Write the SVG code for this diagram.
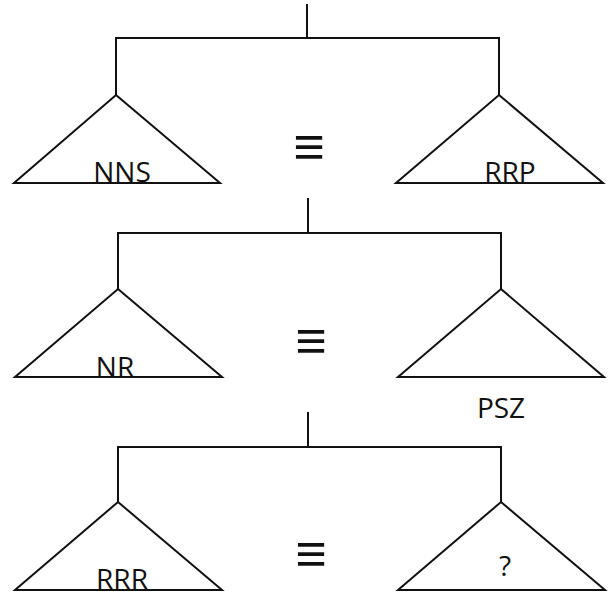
<svg xmlns="http://www.w3.org/2000/svg" width="615" height="597" viewBox="0 0 615 597">
<style>
.ln{fill:none;stroke:#111;stroke-width:2;stroke-linejoin:miter}
.lbl{font-family:"Open Sans","Liberation Sans",sans-serif;font-size:28px;fill:#111;text-anchor:middle}
.eq{font-family:"Liberation Sans",sans-serif;font-size:54px;fill:#111;text-anchor:middle}
</style>
<rect width="615" height="597" fill="#fff"/>
<g id="connectors">
<path class="ln" d="M307,4V38M116,95V38H499V95"/>
<path class="ln" d="M308,198V233M118,289V233H501V289"/>
<path class="ln" d="M308,412V447M118,502V447H501V502"/>
</g>
<g id="tree1-left">
<polygon class="ln" points="116,95 220,183 14,183"/>
<text class="lbl" x="122" y="182">NNS</text>
</g>
<g id="tree1-right">
<polygon class="ln" points="499,95 603,183 396,183"/>
<text class="lbl" x="510" y="182">RRP</text>
</g>
<g id="eq1"><text class="eq" x="309" y="165">≡</text></g>
<g id="tree2-left">
<polygon class="ln" points="118,289 222,377 15,377"/>
<text class="lbl" x="115" y="377">NR</text>
</g>
<g id="tree2-right">
<polygon class="ln" points="501,289 604,377 398,377"/>
<text class="lbl" x="501" y="418">PSZ</text>
</g>
<g id="eq2"><text class="eq" x="311" y="359">≡</text></g>
<g id="tree3-left">
<polygon class="ln" points="118,502 222,590 15,590"/>
<text class="lbl" x="122" y="589">RRR</text>
</g>
<g id="tree3-right">
<polygon class="ln" points="501,502 605,590 398,590"/>
<text class="lbl" x="505" y="576">?</text>
</g>
<g id="eq3"><text class="eq" x="311" y="572">≡</text></g>
</svg>
